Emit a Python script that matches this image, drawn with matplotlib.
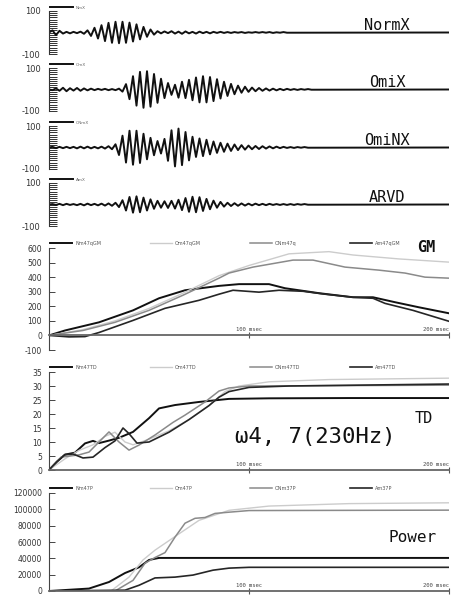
import numpy as np
import matplotlib.pyplot as plt

plt.rcParams["axes.unicode_minus"] = False

# ---- wave panels: signed peak values, one per half cycle ----
wave_dt = 1.75  # msec between peaks
end_ms = 200

normx = [0, 10, -12, 8, -5,
         3, -4, 3, -3, 4,
         -6, 10, -16, 22, -28, 34, -40, 45, -48, 50, -50, 50, -48, 46, -42, 38, -32, 26, -20, 14, -10, 6, -4,
         5, -3, 6, -5, 4, -6, 5, -4, 3, -5, 4, -3, 3, -4, 3, -2, 3, -2,
         2, -2, 2, -1, 2, -2, 1, -1, 2, -1, 2, -1, 2, -2, 1, -1, 2, -1]
omix = [0, -3, 5, -6, 8, -8, 6, -5, 7, -6, 5, -4, 4, -3, 3, -2, 3, -3, 2, -3, 4,
        -10, 25, -45, 62, -75, 82, -85, 85, -80, 72, -62, 50, -40, 30, -25, 22,
        -38, 36, -40, 45, -50,
        56, -60, 62, -60, 58, -54, 48, -42, 36, -30, 26, -22, 18,
        -15, 13, -11, 9, -8, 7, -6, 5, -5, 4, -4, 3, -3, 3, -2, 2, -2, 2, -1, 2, -1]
ominx = [0, 3, -3, 3, -3, 3, -3, 3, -4, 4, -4, 4, -4, 3, -4, 4, -5, 6, -8,
         15, -35, 55, -70, 78, -80, 78, -72, 64, -55, 45, -36, 30,
         -28, 40, -62, 80, -88, 88, -82, 72, -60,
         50, -44, 42, -40, 36, -32, 28, -25, 22, -20, 18, -16, 14, -12, 11,
         -10, 9, -8, 7, -7, 6, -5, 5, -4, 4, -3, 3, -2, 2, -2, 2, -1, 2, -1]
arvd = [0, 2, -2, 3, -3, 3, -2, 2, -3, 3, -4, 4, -3, 3, -4, 4, -5, 5, -6, 8,
        -12, 20, -28, 35, -38, 38, -36, 32, -28, 24, -20, 17,
        -15, 15, -16, 17, -19, 22, -26,
        30, -34, 36, -36, 34, -30, 26, -22, 18, -15, 12, -10, 8, -7,
        6, -6, 5, -5, 4, -4, 4, -3, 3, -3, 3, -2, 2, -2, 2, -2, 2, -2, 2, -1, 2, -1]

wave_names = ["NormX", "OmiX", "OmiNX", "ARVD"]
wave_legends = ["NmX", "OmX", "ONmX", "AmX"]

# ---- GM ----
gm_nm_t = [0, 8, 25, 42, 55, 68, 85, 95, 110, 118, 135, 152, 162, 173, 185, 200]
gm_nm_v = [0, 34, 90, 172, 255, 310, 340, 352, 352, 324, 290, 262, 262, 228, 193, 152]
gm_om_t = [0, 17, 33, 50, 67, 85, 100, 120, 140, 152, 175, 200]
gm_om_v = [0, 40, 100, 185, 290, 410, 480, 560, 575, 552, 525, 503]
gm_onm_t = [0, 17, 33, 50, 67, 85, 90, 102, 122, 132, 148, 165, 178, 188, 200]
gm_onm_v = [0, 34, 90, 172, 276, 393, 428, 469, 517, 517, 469, 448, 428, 400, 393]
gm_am_t = [0, 10, 18, 25, 42, 58, 75, 85, 92, 105, 115, 127, 138, 152, 162, 168, 182, 200]
gm_am_v = [0, -10, -8, 20, 103, 186, 241, 283, 310, 297, 310, 303, 283, 262, 255, 220, 172, 97]
gm_labels = ["Nm47qGM", "Om47qGM", "ONm47q", "Am47qGM"]

# ---- TD ----
td_nm_t = [0, 4, 8, 13, 18, 22, 25, 30, 35, 42, 50, 55, 63, 75, 90, 110, 150, 200]
td_nm_v = [0, 3, 5.5, 6.2, 9.5, 10.4, 9.6, 10.5, 11.5, 13.6, 18.5, 22, 23.2, 24.3, 25.4, 25.6, 25.7, 25.7]
td_om_t = [0, 8, 15, 22, 28, 33, 38, 42, 50, 60, 70, 80, 88, 95, 110, 140, 200]
td_om_v = [0, 4, 7, 9, 12, 13.5, 10, 9, 11, 14, 18, 23, 28, 30, 31.5, 32.3, 32.8]
td_onm_t = [0, 6, 15, 20, 25, 30, 35, 40, 45, 53, 62, 68, 78, 85, 90, 100, 200]
td_onm_v = [0, 4.6, 5.4, 6.4, 10, 13.6, 10, 7.1, 8.9, 12.5, 17, 19.6, 24.3, 28.2, 29.3, 30, 30.3]
td_am_t = [0, 4, 8, 12, 17, 22, 28, 33, 37, 40, 44, 50, 60, 70, 80, 85, 90, 100, 120, 200]
td_am_v = [0, 3, 5.5, 5.7, 4.3, 4.6, 8, 10.4, 15, 13, 9.6, 10, 13.5, 18, 23, 26, 28, 29.5, 30, 30.7]
td_labels = ["Nm47TD", "Om47TD", "ONm47TD", "Am47TD"]

# ---- Power ----
pw_nm_t = [0, 20, 30, 38, 45, 50, 55, 200]
pw_nm_v = [0, 3000, 11000, 22000, 29000, 38000, 40500, 40500]
pw_om_t = [0, 31, 40, 47, 53, 65, 75, 90, 110, 150, 200]
pw_om_v = [0, 0, 17000, 38000, 50000, 70000, 86500, 98800, 104000, 107000, 108000]
pw_onm_t = [0, 33, 42, 48, 53, 58, 63, 68, 73, 78, 83, 90, 100, 200]
pw_onm_v = [0, 0, 13000, 34000, 41000, 47000, 66000, 83000, 89000, 90000, 95000, 96500, 98500, 99000]
pw_am_t = [0, 38, 45, 53, 63, 72, 82, 90, 100, 200]
pw_am_v = [0, 1000, 7000, 16000, 17000, 19500, 25500, 28000, 29000, 29000]
pw_labels = ["Nm47P", "Om47P", "ONm37P", "Am37P"]

W, H = 451, 595
fig = plt.figure(figsize=(W / 100, H / 100), dpi=100)
MONO = "DejaVu Sans Mono"


def px_axes(top, bottom, left=49, right=449):
    return fig.add_axes([left / W, 1 - bottom / H, (right - left) / W, (bottom - top) / H])


# wave panels
wave_tops = [11, 68, 126, 183]
for vals, name, leg, top in zip([normx, omix, ominx, arvd], wave_names, wave_legends, wave_tops):
    ax = px_axes(top, top + 43)
    t = np.append(np.arange(len(vals)) * wave_dt, end_ms)
    v = np.append(vals, 0)
    ax.plot(t, v, color="#111", lw=1.4, label=leg)
    ax.set_xlim(0, 200)
    ax.set_ylim(-100, 100)
    for s in ["top", "right", "bottom"]:
        ax.spines[s].set_visible(False)
    ax.spines["left"].set_color("#333")
    ax.spines["left"].set_linewidth(0.8)
    ax.set_xticks([])
    ax.set_yticks([-100, 100])
    ax.set_yticks(np.arange(-100, 101, 10), minor=True)
    ax.tick_params(axis="y", which="both", direction="in", length=5.5, width=0.7,
                   color="#333", labelsize=6, labelcolor="#333", pad=6)
    ax.legend(loc="lower left", bbox_to_anchor=(0, 1.0), frameon=False, fontsize=3,
              handlelength=5.5, handletextpad=0.6, borderpad=0, borderaxespad=0.3,
              labelcolor="#666")
    ax.text(0.845, 0.56, name, transform=ax.transAxes, ha="center", va="baseline",
            fontsize=11, family=MONO, color="#111")


def multi_panel(top, bottom, series, labels, ylim, yticks, ytick_labels):
    ax = px_axes(top, bottom)
    styles = [("#111", 1.4), ("#cccccc", 1.0), ("#8a8a8a", 1.1), ("#262626", 1.2)]
    lines = []
    for (t, v), lab, (c, lw) in zip(series, labels, styles):
        lines += ax.plot(t, v, color=c, lw=lw, label=lab)
    ax.set_xlim(0, 200)
    ax.set_ylim(*ylim)
    for s in ["top", "right"]:
        ax.spines[s].set_visible(False)
    ax.spines["left"].set_color("#444")
    ax.spines["left"].set_linewidth(0.8)
    ax.spines["bottom"].set_position(("data", 0))
    ax.spines["bottom"].set_color("#666")
    ax.spines["bottom"].set_linewidth(1.3)
    ax.set_yticks(yticks)
    ax.set_yticklabels(ytick_labels)
    ax.tick_params(axis="y", direction="in", length=4, width=0.7, color="#444",
                   labelsize=5.5, labelcolor="#333", pad=5)
    ax.set_xticks([100, 200])
    ax.set_xticklabels(["", ""])
    ax.tick_params(axis="x", direction="inout", length=5, width=0.8, color="#555")
    ax.annotate("100 msec", (100, 0), xytext=(0, 2.5), textcoords="offset points",
                ha="center", va="bottom", fontsize=4, family=MONO, color="#444")
    ax.annotate("200 msec", (200, 0), xytext=(0, 2.5), textcoords="offset points",
                ha="right", va="bottom", fontsize=4, family=MONO, color="#444")
    # one legend per entry, spaced a quarter of the width apart
    for i, ln in enumerate(lines):
        lg = ax.legend([ln], [ln.get_label()], loc="lower left",
                       bbox_to_anchor=(i * 0.25 - 0.003, 1.0), frameon=False,
                       fontsize=3.5, handlelength=4.5, handletextpad=0.6,
                       borderpad=0, borderaxespad=0.5, labelcolor="#555")
        ax.add_artist(lg)
    ax.legend_ = None  # avoid drawing the last one twice
    return ax


multi_panel(248, 350,
            [(gm_nm_t, gm_nm_v), (gm_om_t, gm_om_v), (gm_onm_t, gm_onm_v), (gm_am_t, gm_am_v)],
            gm_labels, (-100, 600), list(range(-100, 601, 100)),
            [str(x) for x in range(-100, 601, 100)])
multi_panel(372, 470,
            [(td_nm_t, td_nm_v), (td_om_t, td_om_v), (td_onm_t, td_onm_v), (td_am_t, td_am_v)],
            td_labels, (0, 35), list(range(0, 36, 5)), [str(x) for x in range(0, 36, 5)])
multi_panel(493, 591,
            [(pw_nm_t, pw_nm_v), (pw_om_t, pw_om_v), (pw_onm_t, pw_onm_v), (pw_am_t, pw_am_v)],
            pw_labels, (0, 120000), list(range(0, 120001, 20000)),
            [str(x) for x in range(0, 120001, 20000)])

fig.text(417 / W, 1 - 252 / H, "GM", fontsize=11, family=MONO, weight="bold", color="#111")
fig.text(415 / W, 1 - 423 / H, "TD", fontsize=11, family=MONO, color="#111")
fig.text(388 / W, 1 - 542 / H, "Power", fontsize=11.5, family=MONO, color="#111")
fig.text(235 / W, 1 - 443 / H, "ω4, 7(230Hz)", fontsize=16, family=MONO, color="#111")

fig.savefig("out.png", dpi=100)
